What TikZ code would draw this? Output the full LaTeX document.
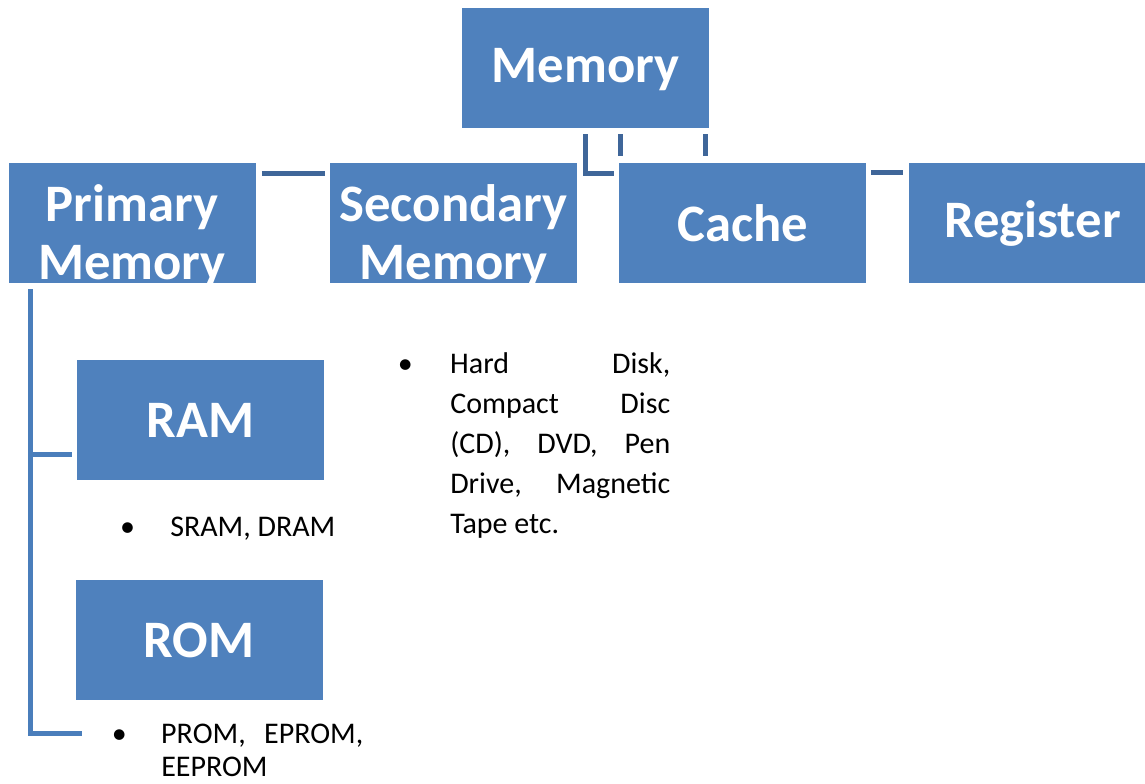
\documentclass[tikz,border=0pt]{standalone}
\usepackage{fontspec}
\setmainfont{Carlito}
\usetikzlibrary{positioning,calc}
\definecolor{boxblue}{HTML}{4F81BD}
\definecolor{linkblue}{HTML}{3F6699}
\definecolor{railblue}{HTML}{4A7EBB}

\tikzset{
  memnode/.style={fill=boxblue, text=white, font=\bfseries\fontsize{39.5}{44}\selectfont,
    minimum width=185.25pt, minimum height=90pt, inner sep=0pt, align=center},
  memlabel/.style={text=white, font=\bfseries\fontsize{39.5}{44}\selectfont,
    inner sep=0pt, align=center},
  link/.style={draw=linkblue, line width=3.75pt},
  rail/.style={draw=railblue, line width=3.75pt},
  item/.style={font=\fontsize{22.5}{30}\selectfont, inner sep=0pt}
}

\begin{document}
\begin{tikzpicture}[x=0.75pt,y=-0.75pt]
\useasboundingbox (0,0) rectangle (1145,783);
% top level
\node[memnode] (memory) at (585.5,68) {};
\node[memlabel] (memorytxt) at (585.5,70) {Memory};
% second row
\node[memnode] (primary) at (132,223) {};
\node[memlabel] (primarytxt) at (132,236) {Primary\\Memory};
\node[memnode] (secondary) at (453.5,223) {};
\node[memlabel] (secondarytxt) at (453.5,236) {Secondary\\Memory};
\node[memnode] (cache) at (742.5,223) {Cache};
\node[memnode] (register) at (1032.5,223) {Register};
% primary memory kinds
\node[memnode] (ram) at (200.5,420) {RAM};
\node[memnode] (rom) at (199,640) {ROM};

% examples
\node[item, anchor=base west] (sramtxt) at (170,536)
  {\llap{\makebox[0pt]{\textbullet}\hspace{32pt}}SRAM, DRAM};
\node[item, text width=165pt, align=justify, anchor=north west] (sectxt) at (450,352)
  {\llap{\makebox[0pt]{\textbullet}\hspace{33.75pt}}Hard Disk,\linebreak
   Compact Disc\linebreak (CD), DVD, Pen\linebreak Drive, Magnetic\linebreak Tape etc.};
\node[item, font=\fontsize{22.5}{24.5}\selectfont, text width=151.5pt, align=justify,
  anchor=north west] (romtxt) at (161,724)
  {\llap{\makebox[0pt]{\textbullet}\hspace{31.5pt}}PROM, EPROM,\linebreak EEPROM};

% connectors
\draw[link] ($(memory.south)+(0,6)$) |- ($(cache.west)+(-5,-50)$);
\draw[link] ($(memory.south)+(35,6)$) -- ++(0,22);
\draw[link] ($(memory.south east)+(-4,6)$) -- ++(0,22);
\draw[link] ($(primary.north east)+(6,11)$) -- ($(secondary.north west)+(-5,11)$);
\draw[link] ($(cache.north east)+(5,10)$) -- ($(register.north west)+(-6,10)$);
\coordinate (railtop) at ($(primary.south west)+(22,6)$);
\draw[rail] (railtop) |- ($(rom.south west)+(7,33)$);
\draw[rail] ($(ram.west)+(-5,34)$) -| (railtop);
\end{tikzpicture}
\end{document}
